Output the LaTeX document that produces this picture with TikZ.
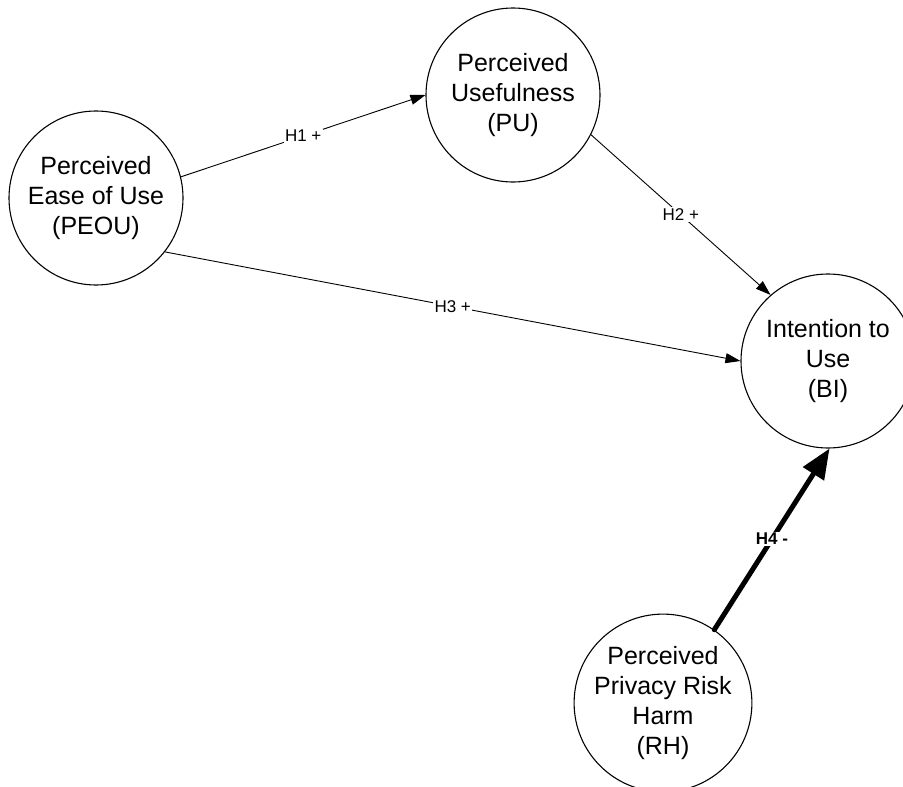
\documentclass[tikz,border=0pt]{standalone}
\usepackage{fontspec}
\setmainfont{Liberation Sans}
\usetikzlibrary{arrows.meta}
\begin{document}
\begin{tikzpicture}[x=1pt,y=-1pt,
  construct/.style={draw=black, line width=1.1pt, circle, minimum size=174pt, inner sep=0pt, align=center, font=\fontsize{25}{30}\selectfont},
  thinarrow/.style={draw=black, line width=0.9pt, -{Triangle[length=15pt,width=10pt]}},
  thickarrow/.style={draw=black, line width=5pt, line cap=round, -{Triangle[length=30pt,width=24pt]}},
  hlabel/.style={midway, fill=white, inner sep=1.5pt, font=\fontsize{17}{20}\selectfont},
  hlabelbold/.style={midway, fill=white, inner sep=1.5pt, font=\fontsize{17}{20}\selectfont\bfseries}]
\useasboundingbox (0,0) rectangle (903,787);
\node[construct] (peou) at (96,198) {Perceived\\Ease of Use\\(PEOU)};
\node[construct] (pu) at (513,95) {Perceived\\Usefulness\\(PU)};
\node[construct] (bi) at (828,361) {Intention to\\Use\\(BI)};
\node[construct] (rh) at (663,703) {Perceived\\Privacy Risk\\Harm\\(RH)};
\draw[thinarrow] (peou.14) -- node[hlabel] {H1 +} (pu.west);
\draw[thinarrow] (pu.-27.5) -- node[hlabel] {H2 +} (bi.131);
\draw[thinarrow] (peou.-38) -- node[hlabel] {H3 +} (bi.west);
\draw[thickarrow] (rh.55) -- node[hlabelbold] {H4 -} (bi.-89);
\end{tikzpicture}
\end{document}
